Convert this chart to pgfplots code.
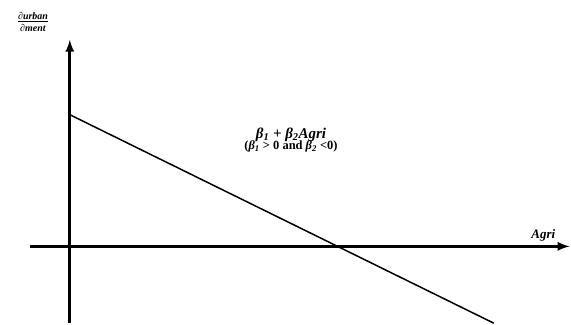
\documentclass[border=0pt]{standalone}
\usepackage{fontspec}
\setmainfont{Liberation Serif}
\usepackage{pgfplots}
\pgfplotsset{compat=1.18}
\begin{document}
\begin{tikzpicture}
\begin{axis}[
  width=571pt, height=324pt, scale only axis,
  xmin=-70, xmax=501, ymin=-77, ymax=247,
  axis line style={draw=none},
  ticks=none,
  clip=false,
  ylabel={\fontsize{10}{11}\selectfont\textbf{\textit{\underline{∂urban}}}\\\fontsize{10}{11}\selectfont\textbf{\textit{∂ment}}},
  ylabel style={at={(axis description cs:0.058,0.932)}, rotate=-90, anchor=center, align=center, inner sep=0pt},
  xlabel={\fontsize{13}{15}\selectfont\textbf{\textit{Agri}}},
  xlabel style={at={(axis description cs:0.954,0.272)}, anchor=center, inner sep=0pt},
  title={\fontsize{15}{17}\selectfont\textbf{\textit{β\textsubscript{1} + β\textsubscript{2}Agri}}\\\fontsize{12.5}{17}\selectfont\textbf{(\textit{β\textsubscript{1}} > 0 and \textit{β\textsubscript{2}} <0)}},
  title style={at={(axis description cs:0.511,0.548)}, anchor=center, align=center, inner sep=0pt},
]
\addplot[black, line width=3pt, -latex] coordinates {(-40,0) (501,0)};
\addplot[black, line width=3pt, -latex] coordinates {(0,-77) (0,207)};
\addplot[black, line width=1.5pt] coordinates {(0,132) (425,-77)};
\end{axis}
\end{tikzpicture}
\end{document}
